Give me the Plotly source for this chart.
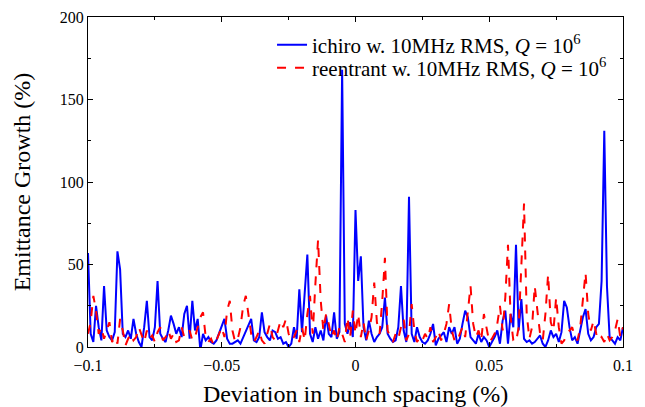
import plotly.graph_objects as go

# deviation in bunch spacing (%), step 0.001
dev = [round(-0.1 + 0.001 * i, 3) for i in range(201)]

ichiro = [57, 8, 3, 25, 12, 4, 37, 10, 6, 4,
          9, 58, 47, 8, 6, 10, 5, 17, 8, 3,
          0, 12, 28, 6, 4, 12, 40, 8, 5, 3,
          10, 19, 14, 8, 12, 6, 20, 25, 5, 28,
          10, 17, -2, 8, 4, 6, 3, 2, 4, 8,
          12, 17, 5, 2, 2, 3, 4, 2, 6, 10,
          14, 17, 4, 3, 6, 21, 9, 6, 4, 10,
          9, 5, 6, 2, 3, 0, 2, 12, 5, 35,
          9, 30, 56, 8, 3, 12, 5, 10, 4, 19,
          8, 6, 21, 5, 9, 168, 14, 8, 15, 6,
          83, 40, 55, 12, 4, 16, 8, 3, 6, 8,
          12, 30, 8, 5, 3, 4, 12, 37, 10, 3,
          91, 8, 3, 12, 6, 3, 2, 4, 8, 14,
          1, 5, 7, 9, 3, 12, 8, 12, 2, 5,
          14, 22, 18, 6, 4, 2, 8, 3, 6, 4,
          0, 3, 6, 10, 2, 16, 22, 2, 20, 12,
          62, 10, 29, 5, 3, 4, 2, 3, 5, 7,
          2, 0, 4, 10, 6, 8, 3, 9, 28, 24,
          12, 4, 6, 2, 10, 18, 23, 8, 4, 6,
          12, 14, 40, 131, 37, 6, 4, 2, 6, 4,
          12]

reentrant = [8, 15, 31, 22, 8, 12, 5, 10, 15, 3,
             6, 2, 17, 10, 1, 5, 8, 4, 6, 12,
             8, 3, 10, 5, 7, 3, 9, 12, 4, 6,
             10, 5, 8, 3, 4, 12, 6, 8, 10, 4,
             6, 12, 18, 21, 6, 3, 5, 1, 4, 8,
             12, 6, 22, 28, 10, 3, 5, 12, 25, 31,
             18, 8, 3, 6, 10, 4, 2, 8, 14, 6,
             4, 10, 16, 12, 17, 8, 4, 6, 10, 3,
             12, 4, 20, 31, 8, 38, 65, 28, 10, 20,
             14, 6, 10, 4, 12, 8, 3, 18, 6, 22,
             8, 20, 6, 15, 4, 10, 18, 39, 15, 8,
             28, 54, 10, 6, 3, 8, 5, 12, 17, 4,
             8, 26, 10, 3, 6, 4, 8, 5, 12, 3,
             6, 10, 4, 8, 14, 26, 10, 4, 3, 8,
             12, 6, 20, 37, 14, 6, 10, 4, 20, 12,
             3, 5, 8, 14, 25, 10, 30, 62, 18, 4,
             3, 12, 50, 87, 20, 5, 12, 37, 22, 8,
             4, 20, 44, 15, 10, 30, 12, 2, 4, 8,
             10, 12, 6, 4, 12, 28, 45, 20, 10, 16,
             8, 4, 6, 3, 8, 4, 6, 10, 17, 6,
             12]

x_ticks = [-0.1, -0.05, 0, 0.05, 0.1]
x_labels = ["\u22120.1", "\u22120.05", "0", "0.05", "0.1"]
y_ticks = [0, 50, 100, 150, 200]

fig = go.Figure()
fig.add_trace(go.Scatter(x=dev, y=ichiro, mode="lines", legend="legend",
                         name="ichiro w. 10MHz RMS, <i>Q</i> = 10<sup>6</sup>",
                         line=dict(color="#0000ff", width=2)))
fig.add_trace(go.Scatter(x=dev, y=reentrant, mode="lines", legend="legend2",
                         name="reentrant w. 10MHz RMS, <i>Q</i> = 10<sup>6</sup>",
                         line=dict(color="#ff0000", width=2, dash="dash")))

axis_common = dict(showline=True, linecolor="black", linewidth=1, mirror="ticks",
                   ticks="inside", ticklen=5, tickcolor="black", showgrid=False,
                   zeroline=False, automargin=False,
                   tickfont=dict(size=16, color="black"))

fig.update_xaxes(range=[-0.1, 0.1], tickvals=x_ticks, ticktext=x_labels,
                 ticklabelstandoff=4,
                 title=dict(text="Deviation in bunch spacing (%)", font=dict(size=24, color="black"), standoff=14),
                 minor=dict(dtick=0.025, ticks="inside", ticklen=3, tickcolor="black"),
                 **axis_common)
fig.update_yaxes(range=[0, 200], tickvals=y_ticks,
                 title=dict(text="Emittance Growth (%)", font=dict(size=24, color="black"), standoff=22),
                 minor=dict(dtick=25, ticks="inside", ticklen=3, tickcolor="black"),
                 **axis_common)

leg = dict(x=0.344, xanchor="left", yanchor="middle",
           bgcolor="rgba(255,255,255,0)", font=dict(size=21))

# page has an 8px body margin, so the figure is a bit smaller than the window
fig.update_layout(
    width=637, height=399,
    margin=dict(l=80, r=22, t=9, b=60),
    paper_bgcolor="white", plot_bgcolor="white",
    font=dict(family="Liberation Serif, DejaVu Serif, serif", color="black"),
    legend=dict(y=0.915, **leg),
    legend2=dict(y=0.845, **leg),
    showlegend=True,
)

fig.write_html("out.html")
